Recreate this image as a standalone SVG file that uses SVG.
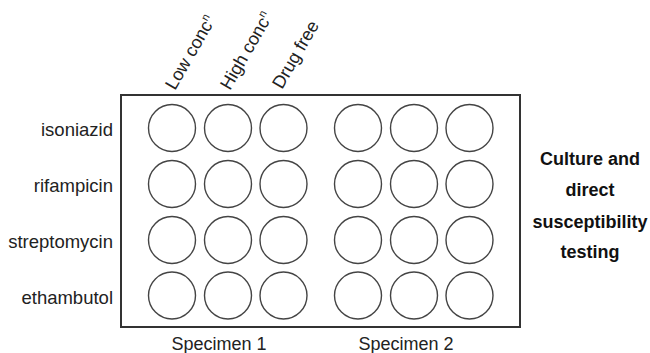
<svg xmlns="http://www.w3.org/2000/svg" width="650" height="353" viewBox="0 0 650 353">
<style>
.lbl{font-family:"Liberation Sans",Arial,sans-serif;font-size:18px;fill:#222}
.rl{font-size:18.5px}
.r{text-anchor:end}
.m{text-anchor:middle}
.b{font-family:"Liberation Sans",Arial,sans-serif;font-size:18px;font-weight:bold;fill:#111;text-anchor:middle}
.well{fill:#fff;stroke:#444;stroke-width:1.4}
.plate{fill:#fff;stroke:#333;stroke-width:2}
</style>
<rect width="650" height="353" fill="#fff"/>
<g id="plate"><rect class="plate" x="121" y="95" width="399" height="232"/></g>
<g id="wells">
<g id="row1"><circle class="well" cx="172" cy="128" r="23.5"/><circle class="well" cx="228" cy="128" r="23.5"/><circle class="well" cx="283.5" cy="128" r="23.5"/><circle class="well" cx="358" cy="128" r="23.5"/><circle class="well" cx="414" cy="128" r="23.5"/><circle class="well" cx="469.5" cy="128" r="23.5"/></g>
<g id="row2"><circle class="well" cx="172" cy="184" r="23.5"/><circle class="well" cx="228" cy="184" r="23.5"/><circle class="well" cx="283.5" cy="184" r="23.5"/><circle class="well" cx="358" cy="184" r="23.5"/><circle class="well" cx="414" cy="184" r="23.5"/><circle class="well" cx="469.5" cy="184" r="23.5"/></g>
<g id="row3"><circle class="well" cx="172" cy="240" r="23.5"/><circle class="well" cx="228" cy="240" r="23.5"/><circle class="well" cx="283.5" cy="240" r="23.5"/><circle class="well" cx="358" cy="240" r="23.5"/><circle class="well" cx="414" cy="240" r="23.5"/><circle class="well" cx="469.5" cy="240" r="23.5"/></g>
<g id="row4"><circle class="well" cx="172" cy="295.5" r="23.5"/><circle class="well" cx="228" cy="295.5" r="23.5"/><circle class="well" cx="283.5" cy="295.5" r="23.5"/><circle class="well" cx="358" cy="295.5" r="23.5"/><circle class="well" cx="414" cy="295.5" r="23.5"/><circle class="well" cx="469.5" cy="295.5" r="23.5"/></g>
</g>
<g id="row-labels">
<text class="lbl rl r" x="113" y="136">isoniazid</text>
<text class="lbl rl r" x="113" y="192">rifampicin</text>
<text class="lbl rl r" x="113" y="248">streptomycin</text>
<text class="lbl rl r" x="113" y="303.5">ethambutol</text>
</g>
<g id="column-labels">
<text class="lbl" transform="translate(175,91) rotate(-60)">Low conc<tspan font-size="11" dy="-7">n</tspan></text>
<text class="lbl" transform="translate(230,91) rotate(-60)">High conc<tspan font-size="11" dy="-7">n</tspan></text>
<text class="lbl" transform="translate(282,90) rotate(-60)">Drug free</text>
</g>
<g id="specimen-labels">
<text class="lbl m" x="219" y="350">Specimen 1</text>
<text class="lbl m" x="406" y="350">Specimen 2</text>
</g>
<g id="title">
<text class="b" x="590" y="164.5">Culture and</text>
<text class="b" x="590" y="196">direct</text>
<text class="b" x="590" y="228">susceptibility</text>
<text class="b" x="590" y="257.5">testing</text>
</g>
</svg>
